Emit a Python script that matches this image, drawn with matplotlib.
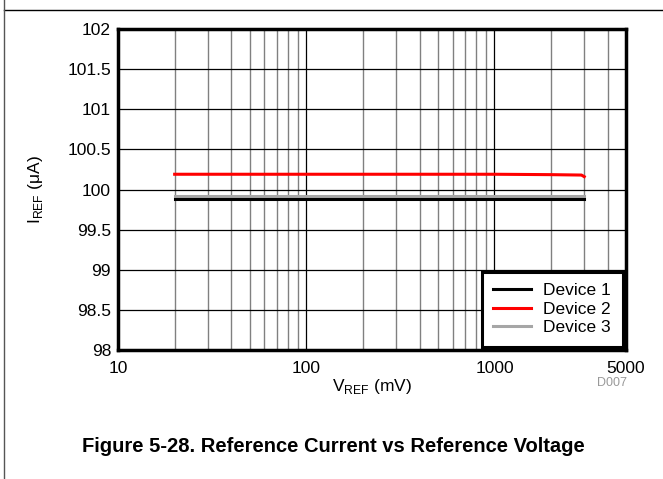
import matplotlib.pyplot as plt
from matplotlib.ticker import FixedLocator, NullFormatter

plt.rcParams["font.family"] = ["Liberation Sans", "DejaVu Sans"]

# data
vref = [20, 50, 100, 200, 500, 1000, 2000, 2900, 3000]
dev1 = [99.88, 99.88, 99.88, 99.88, 99.88, 99.88, 99.88, 99.88, 99.88]
dev2 = [100.19, 100.19, 100.19, 100.19, 100.19, 100.19, 100.185, 100.18, 100.16]
dev3 = [99.92, 99.92, 99.92, 99.92, 99.92, 99.92, 99.92, 99.92, 99.92]
names = ["Device 1", "Device 2", "Device 3"]
colors = ["black", "red", "#a6a6a6"]

xticks = [10, 100, 1000, 5000]
yticks = [98, 98.5, 99, 99.5, 100, 100.5, 101, 101.5, 102]

fig = plt.figure(figsize=(6.63, 4.79), dpi=100)
ax = fig.add_axes([118 / 663, 129 / 479, 508 / 663, 321 / 479])

# order so black sits on top of gray like the reference
ax.plot(vref, dev3, color=colors[2], lw=2.2, label=names[2], zorder=3)
ax.plot(vref, dev1, color=colors[0], lw=2.2, label=names[0], zorder=4)
ax.plot(vref, dev2, color=colors[1], lw=2.2, label=names[1], zorder=4)

ax.set_xscale("log")
ax.set_xlim(10, 5000)
ax.set_ylim(98, 102)

ax.xaxis.set_major_locator(FixedLocator(xticks))
ax.set_xticklabels([str(t) for t in xticks])
minor = [m * d for d in [10, 100, 1000] for m in range(2, 10) if m * d < 5000]
ax.xaxis.set_minor_locator(FixedLocator(minor))
ax.xaxis.set_minor_formatter(NullFormatter())
ax.set_yticks(yticks)
ax.set_yticklabels(["%g" % t for t in yticks])

ax.grid(which="major", axis="y", color="black", lw=0.9)
ax.grid(which="major", axis="x", color="black", lw=0.9)
ax.grid(which="minor", axis="x", color="#808080", lw=1.0)
ax.tick_params(which="both", length=0, labelsize=12.5)
ax.tick_params(axis="x", pad=8)
ax.tick_params(axis="y", pad=5)

for s in ax.spines.values():
    s.set_linewidth(2.5)

ax.set_xlabel(r"V$_{\mathregular{REF}}$ (mV)", fontsize=12.5, labelpad=1)
ax.set_ylabel(r"I$_{\mathregular{REF}}$ ($\mathregular{\mu}$A)", fontsize=12.5, labelpad=16)

h, l = ax.get_legend_handles_labels()
order = [1, 2, 0]
leg = ax.legend([h[i] for i in order], [l[i] for i in order], loc="lower right",
                fontsize=12.5, fancybox=False, framealpha=1, edgecolor="black",
                borderaxespad=0.2, handlelength=2.2, labelspacing=0.2,
                borderpad=0.65, handletextpad=0.7)
leg.get_frame().set_linewidth(2.2)

fig.text(612 / 663, 1 - 383 / 479, "D007", color="#999999", fontsize=9, ha="center", va="center")
fig.text(333 / 663, 1 - 447 / 479, "Figure 5-28. Reference Current vs Reference Voltage",
         fontsize=14.5, fontweight="bold", ha="center", va="center")

# page frame lines
fig.add_artist(plt.Line2D([4 / 663, 1], [1 - 10 / 479] * 2, color="black", lw=1, transform=fig.transFigure))
fig.add_artist(plt.Line2D([4 / 663] * 2, [0, 1], color="#555555", lw=1, transform=fig.transFigure))

fig.savefig("out.png", dpi=100)
